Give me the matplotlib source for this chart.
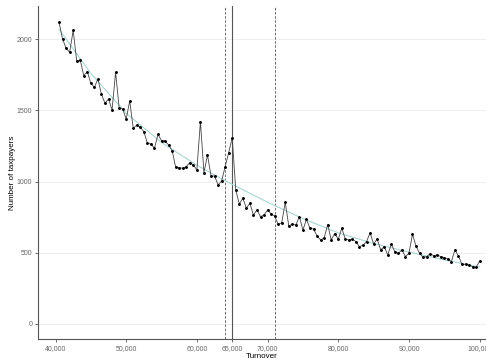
import numpy as np
import matplotlib
matplotlib.use("Agg")
import matplotlib.pyplot as plt
from matplotlib.ticker import FuncFormatter

plt.rcParams['font.family'] = ['Liberation Sans', 'DejaVu Sans']

# bins of 500 from 40,500 to 100,000
turnover = np.arange(40500, 100001, 500)
taxpayers = [
    2119, 2001, 1936, 1908, 2062, 1847, 1854, 1744, 1772, 1690,
    1662, 1721, 1613, 1550, 1580, 1503, 1768, 1519, 1508, 1440,
    1566, 1374, 1397, 1381, 1350, 1269, 1264, 1234, 1332, 1287,
    1285, 1257, 1217, 1100, 1098, 1093, 1105, 1133, 1117, 1081,
    1421, 1063, 1187, 1039, 1039, 976, 1004, 1105, 1204, 1308,
    941, 843, 883, 813, 848, 765, 801, 754, 765, 801,
    773, 758, 700, 711, 854, 688, 702, 695, 754, 660,
    735, 672, 667, 618, 590, 604, 698, 592, 635, 595,
    672, 595, 590, 595, 578, 543, 553, 578, 641, 562,
    597, 520, 543, 485, 560, 508, 496, 520, 473, 496,
    630, 548, 496, 468, 473, 492, 480, 485, 473, 466,
    456, 438, 520, 478, 419, 419, 414, 402, 398, 442,
]

# counterfactual fit
fit_x = [40500, 45000, 50000, 55000, 60000, 65000, 70000,
         75000, 80000, 85000, 90000, 95000, 100000]
fit_y = [2070, 1760, 1480, 1275, 1115, 980, 855,
         740, 640, 565, 505, 450, 400]

lower, threshold, upper = 64000, 65000, 71000

fig = plt.figure(figsize=(4.86, 3.62), dpi=100)
ax = fig.add_axes([0.0782, 0.0622, 0.9218, 0.9212])

ax.plot(fit_x, fit_y, color='#a9d6d2', lw=0.8, zorder=2)
ax.plot(turnover, taxpayers, color='#444444', lw=0.6, zorder=3)
ax.plot(turnover, taxpayers, 'o', color='black', ms=1.1, zorder=4)

ax.axvline(lower, color='#555555', lw=0.6, ls=(0, (3, 2)), zorder=1)
ax.axvline(threshold, color='#555555', lw=0.8, zorder=1)
ax.axvline(upper, color='#555555', lw=0.6, ls=(0, (3, 2)), zorder=1)

ax.set_xlim(37525, 100900)
ax.set_ylim(-109, 2233)
ax.set_xticks([40000, 50000, 60000, 65000, 70000, 80000, 90000, 100000])
ax.set_yticks([0, 500, 1000, 1500, 2000])
ax.xaxis.set_major_formatter(FuncFormatter(lambda v, p: f'{int(v):,}'))

ax.grid(axis='y', color='#ebebeb', lw=0.6)
ax.set_axisbelow(True)
for s in ['top', 'right']:
    ax.spines[s].set_visible(False)
for s in ['left', 'bottom']:
    ax.spines[s].set_color('#555555')
    ax.spines[s].set_linewidth(0.8)
ax.tick_params(colors='#555555', labelsize=5, length=2, width=0.6, pad=2)
for lab in ax.get_xticklabels() + ax.get_yticklabels():
    lab.set_color('#666666')

ax.set_xlabel('Turnover', fontsize=5.8, labelpad=1)
ax.set_ylabel('Number of taxpayers', fontsize=5.8)
ax.yaxis.set_label_coords(-0.049, 0.5)

fig.savefig('out.png', dpi=100)
